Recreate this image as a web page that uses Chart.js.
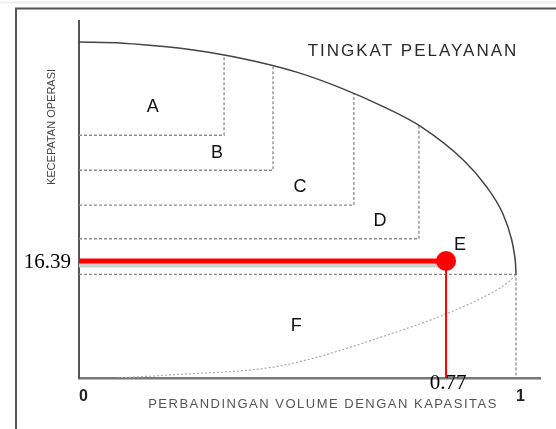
<!DOCTYPE html>
<html>
<head>
<meta charset="utf-8">
<script src="https://cdn.jsdelivr.net/npm/chart.js@4"></script>
<style>
  body { margin: 0; background: #fff; }
  canvas { display: block; }
</style>
</head>
<body>
<canvas id="los" width="556" height="429"></canvas>
<script>
// level of service boundary curve
var losX = [0, 0.1, 0.2, 0.3, 0.4, 0.5, 0.6, 0.7, 0.78, 0.88, 0.93, 0.97, 0.99, 0.996, 0.999, 1.0]
var losY = [47.05, 46.9, 46.4, 45.6, 44.4, 42.8, 40.6, 37.9, 35.3, 30.5, 27.0, 23.0, 19.4, 17.5, 16.0, 14.5]

// dashed boxes A-D
var boxRight = [0.332, 0.444, 0.629, 0.778]
var boxBottom = [34.0, 29.1, 24.2, 19.5]
var boxTop = [45.1, 43.6, 39.9, 35.3]

// E / F boundary
var eLineY = 14.5
var fX = [0.087, 0.2, 0.46, 0.68, 0.908, 0.984, 1.0]
var fY = [0, 0.4, 1.7, 5.5, 10.8, 13.5, 14.5]

// region letters
var zoneNames = ['A', 'B', 'C', 'D', 'E', 'F']
var zoneX = [0.169, 0.316, 0.506, 0.689, 0.872, 0.497]
var zoneY = [37.95, 31.5, 26.75, 22.0, 18.6, 7.3]

// measured point
var markX = [0.84]
var markY = [16.39]
var markXLabel = ['0.77']

var xTicks = [0, 1]

function pts(xs, ys) {
    return xs.map(function (x, i) { return { x: x, y: ys[i] } })
}

var dashColor = '#8c8c8c'
var datasets = [
    {
        label: 'point',
        data: pts(markX, markY),
        showLine: false,
        pointRadius: 10,
        pointBackgroundColor: '#ff0000',
        pointBorderWidth: 0
    },
    {
        label: 'speed',
        data: [{ x: 0, y: markY[0] }, { x: markX[0], y: markY[0] }],
        borderColor: '#ff0000',
        borderWidth: 5,
        borderCapStyle: 'butt',
        pointRadius: 0
    },
    {
        label: 'ratio',
        data: [{ x: markX[0], y: markY[0] }, { x: markX[0], y: 0 }],
        borderColor: '#ff0000',
        borderWidth: 2,
        pointRadius: 0
    },
    {
        label: 'los',
        data: pts(losX, losY),
        borderColor: '#444',
        borderWidth: 1.5,
        cubicInterpolationMode: 'monotone',
        pointRadius: 0
    },
    {
        label: 'F',
        data: pts(fX, fY),
        borderColor: '#aaa',
        borderWidth: 1.2,
        borderDash: [2, 2],
        cubicInterpolationMode: 'monotone',
        pointRadius: 0
    },
    {
        label: 'E',
        data: [{ x: 0, y: eLineY }, { x: 1, y: eLineY }, { x: 1, y: 0 }],
        borderColor: dashColor,
        borderWidth: 1.3,
        borderDash: [3, 2],
        pointRadius: 0
    }
]
boxRight.forEach(function (r, i) {
    datasets.push({
        label: 'box' + i,
        data: [{ x: 0, y: boxBottom[i] }, { x: r, y: boxBottom[i] }, { x: r, y: boxTop[i] }],
        borderColor: dashColor,
        borderWidth: 1.3,
        borderDash: [3, 2],
        pointRadius: 0
    })
})

var decor = {
    id: 'decor',
    beforeDraw: function (chart) {
        var ctx = chart.ctx
        ctx.save()
        ctx.strokeStyle = '#eee'
        ctx.lineWidth = 2
        ctx.beginPath(); ctx.moveTo(0, 2.5); ctx.lineTo(556, 2.5); ctx.stroke()
        ctx.strokeStyle = '#555'
        ctx.lineWidth = 2
        ctx.beginPath()
        ctx.moveTo(16, 429); ctx.lineTo(16, 8.5); ctx.lineTo(556, 8.5)
        ctx.stroke()
        ctx.restore()
    },
    beforeDatasetDraw: function (chart, args) {
        if (args.index === 1) {
            var ctx = chart.ctx
            ctx.save()
            ctx.shadowColor = '#cfcfcf'
            ctx.shadowOffsetY = 4
            ctx.shadowBlur = 0
        }
    },
    afterDatasetDraw: function (chart, args) {
        if (args.index === 1) chart.ctx.restore()
    },
    afterDraw: function (chart) {
        var ctx = chart.ctx
        var xs = chart.scales.x, ys = chart.scales.y
        ctx.save()
        ctx.fillStyle = '#111'
        ctx.textAlign = 'center'
        ctx.textBaseline = 'middle'
        ctx.font = '18px "Liberation Sans", Arial'
        zoneNames.forEach(function (n, i) {
            ctx.fillText(n, xs.getPixelForValue(zoneX[i]), ys.getPixelForValue(zoneY[i]))
        })

        ctx.fillStyle = '#2a2a2a'
        ctx.font = '17px "Liberation Sans", Arial'
        ctx.letterSpacing = '2px'
        ctx.fillText('TINGKAT PELAYANAN', 413, 51)

        ctx.fillStyle = '#555'
        ctx.font = '13px "Liberation Sans", Arial'
        ctx.letterSpacing = '1.5px'
        ctx.fillText('PERBANDINGAN VOLUME DENGAN KAPASITAS', 323, 404)

        ctx.letterSpacing = '0px'
        ctx.fillStyle = '#444'
        ctx.font = '11px "Liberation Sans", Arial'
        ctx.translate(52, 127)
        ctx.rotate(-Math.PI / 2)
        ctx.fillText('KECEPATAN OPERASI', 0, 0)
        ctx.restore()

        ctx.save()
        ctx.fillStyle = '#000'
        ctx.font = '21px "Liberation Serif", "Times New Roman", serif'
        ctx.textAlign = 'center'
        ctx.textBaseline = 'alphabetic'
        ctx.fillText(markXLabel[0], xs.getPixelForValue(markX[0]) + 2, 389)
        ctx.restore()
    }
}

var chart = new Chart(
    document.getElementById('los'),
    {
        type: 'line',
        data: { datasets: datasets },
        options: {
            responsive: false,
            animation: false,
            layout: { padding: { top: 21, right: 16, left: 0, bottom: 0 } },
            plugins: { legend: { display: false }, tooltip: { enabled: false } },
            scales: {
                x: {
                    type: 'linear',
                    min: 0,
                    max: 1.055,
                    grid: { display: false, drawTicks: false },
                    border: { display: true, color: '#777', width: 2.5 },
                    afterBuildTicks: function (scale) {
                        scale.ticks = xTicks.map(function (v) { return { value: v } })
                    },
                    afterFit: function (scale) { scale.height = 51 },
                    ticks: {
                        align: 'start',
                        padding: 9,
                        maxRotation: 0,
                        color: '#222',
                        font: { family: '"Liberation Sans", Arial', size: 16, weight: 'bold' },
                        callback: function (v) { return String(v) }
                    }
                },
                y: {
                    type: 'linear',
                    min: 0,
                    max: 50,
                    grid: { display: false, drawTicks: false },
                    border: { display: true, color: '#555', width: 2 },
                    afterBuildTicks: function (scale) {
                        scale.ticks = markY.map(function (v) { return { value: v } })
                    },
                    afterFit: function (scale) { scale.width = 79 },
                    ticks: {
                        padding: 8,
                        labelOffset: 2,
                        color: '#000',
                        font: { family: '"Liberation Serif", "Times New Roman", serif', size: 21 },
                        callback: function (v) { return v.toFixed(2) }
                    }
                }
            }
        },
        plugins: [decor]
    }
);
</script>
</body>
</html>
